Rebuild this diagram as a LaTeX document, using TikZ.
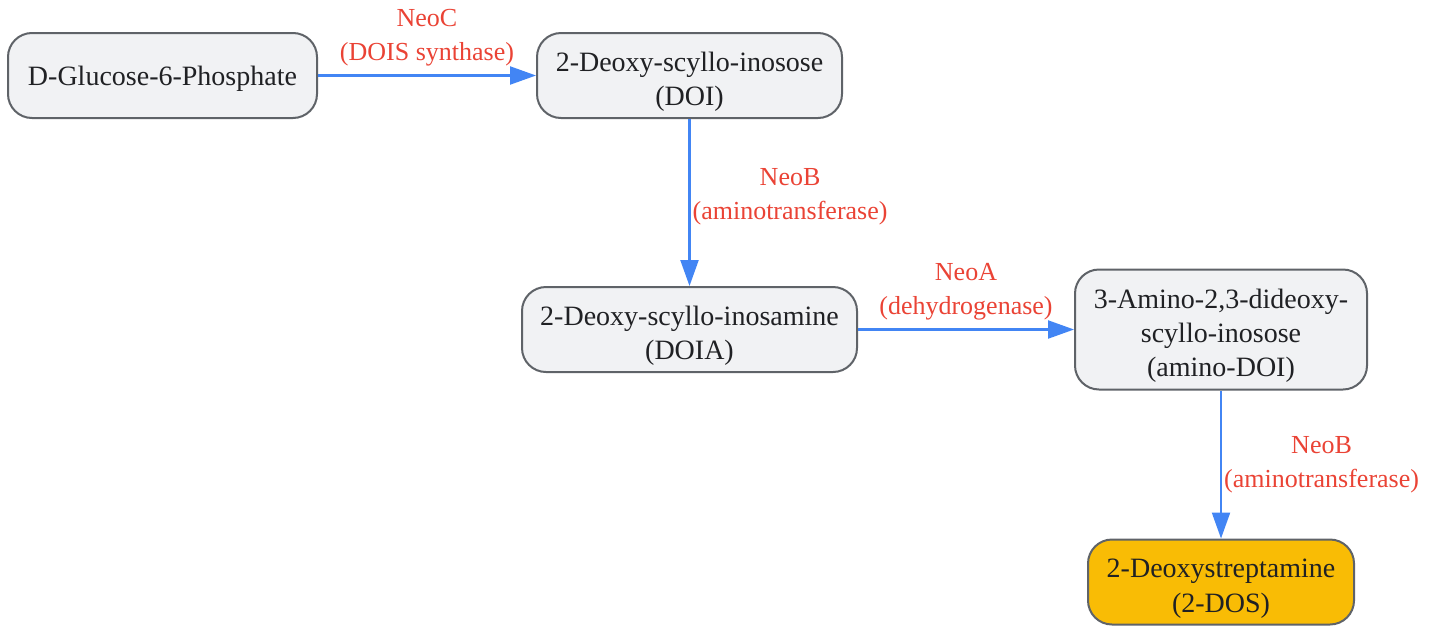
\documentclass[tikz,border=0pt]{standalone}
\usepackage{fontspec}
\setmainfont{Liberation Serif}
\usepackage{xcolor}
\usepackage{tikz}
\usetikzlibrary{arrows.meta, positioning, calc}
\definecolor{stepGray}{HTML}{F1F2F4}
\definecolor{stepLine}{HTML}{5F6368}
\definecolor{stepText}{HTML}{202124}
\definecolor{enzymeRed}{HTML}{EA4335}
\definecolor{flowBlue}{HTML}{4285F4}
\definecolor{productGold}{HTML}{F9BC05}

\begin{document}
\begin{tikzpicture}[
    x=0.5pt, y=-0.5pt,
    cmpd/.style={rectangle, rounded corners=12pt, draw=stepLine, line width=1pt, fill=stepGray,
        text=stepText, align=center, minimum height=42.5pt, inner sep=2pt,
        font=\fontsize{14}{17.2}\selectfont},
    arrow/.style={-{Triangle[length=13pt, width=9pt]}, draw=flowBlue, line width=1.1pt},
    enzyme/.style={text=enzymeRed, align=center, font=\fontsize{13}{17}\selectfont}
]

% page frame
\useasboundingbox (0,0) rectangle (1433,627);

% Start of the pathway
\node[cmpd, minimum width=154.5pt] (g6p) at (162.5,75.5) {\rule{0pt}{13pt}D-Glucose-6-Phosphate};
\node[cmpd, minimum width=152.5pt, right=109pt of g6p] (doi) {\rule{0pt}{16pt}2-Deoxy-scyllo-inosose\\(DOI)};

% Amination and oxidation
\node[cmpd, minimum width=167.5pt, below=83.5pt of doi] (doia) {\rule{0pt}{16pt}2-Deoxy-scyllo-inosamine\\(DOIA)};
\node[cmpd, minimum width=146pt, minimum height=60pt, right=108pt of doia] (aminodoi) {\rule{0pt}{16pt}3-Amino-2,3-dideoxy-\\scyllo-inosose\\(amino-DOI)};

% Product
\node[cmpd, fill=productGold, minimum width=133pt, below=74pt of aminodoi] (dos) {\rule{0pt}{16pt}2-Deoxystreptamine\\(2-DOS)};

% Arrows
\draw[arrow] (g6p) -- node[enzyme, above, inner sep=4pt] {NeoC\\(DOIS synthase)} (doi);
\draw[arrow] (doi) -- node[enzyme, right, inner sep=1pt, yshift=3pt] {NeoB\\(aminotransferase)} (doia);
\draw[arrow] (doia) -- node[enzyme, above, inner sep=4pt] {NeoA\\(dehydrogenase)} (doia -| aminodoi.west);
\draw[arrow] (aminodoi) -- node[enzyme, right, inner sep=1pt] {NeoB\\(aminotransferase)} (dos);

\end{tikzpicture}
\end{document}
